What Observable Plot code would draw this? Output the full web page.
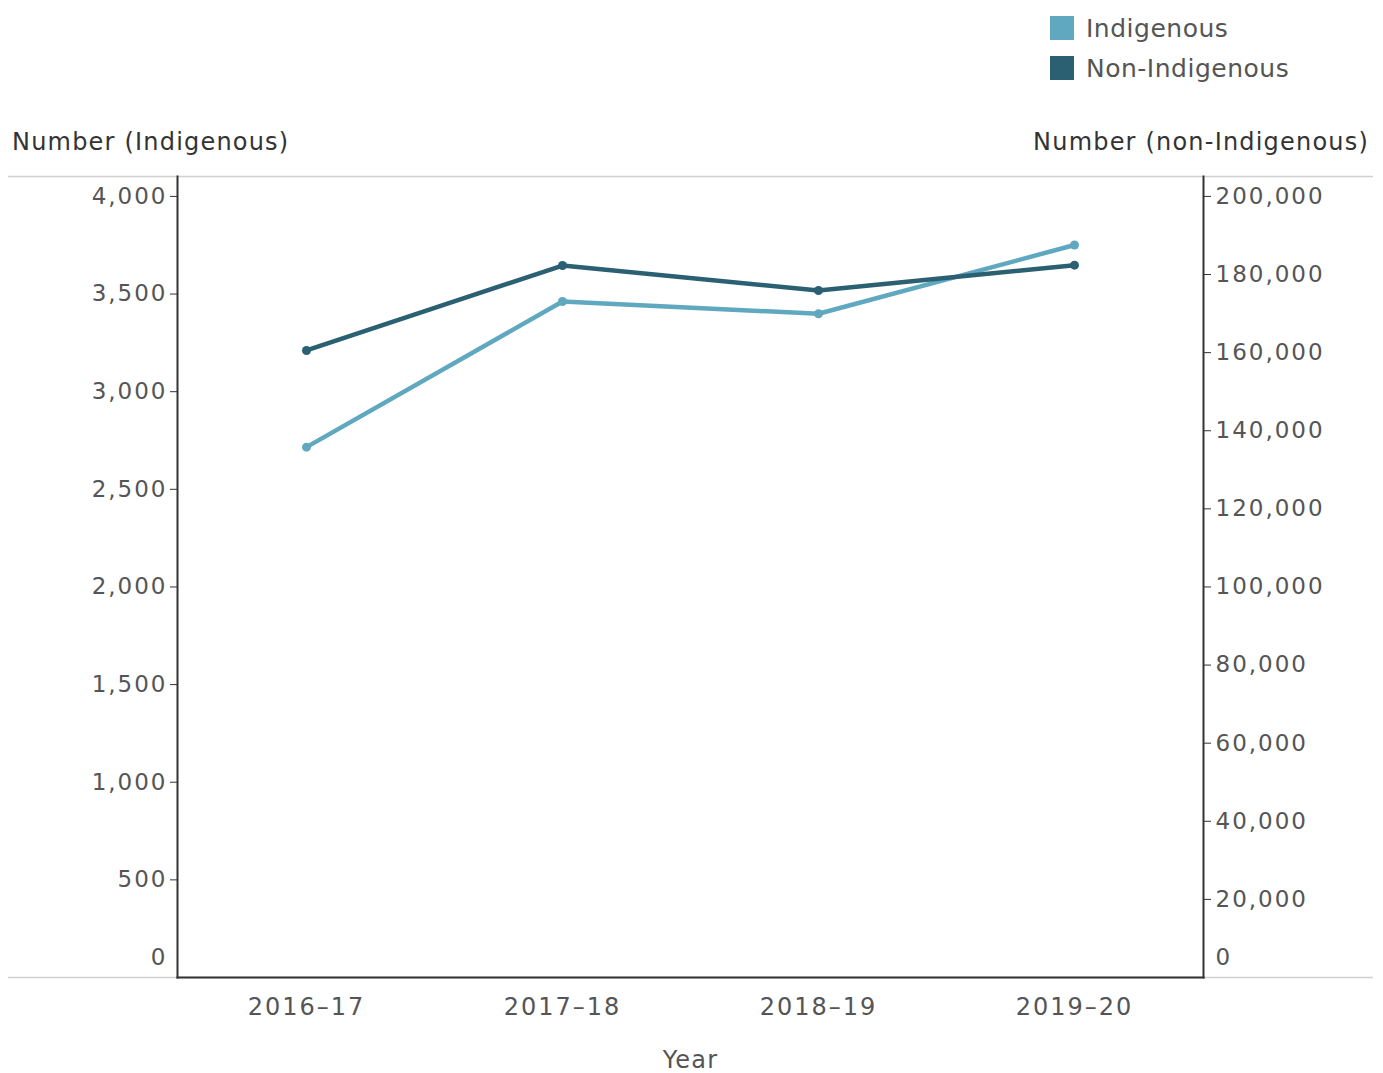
<!DOCTYPE html>
<html>
<head>
<meta charset="utf-8">
<script src="https://cdn.jsdelivr.net/npm/d3@7"></script>
<script src="https://cdn.jsdelivr.net/npm/@observablehq/plot@0.6"></script>
<style>
  body { margin: 0; background: #fff; font-family: "DejaVu Sans", sans-serif; }
  #wrap { position: relative; width: 1383px; }
  #header { position: relative; height: 160px; }
  .sw { position: absolute; width: 24px; height: 24px; }
  .lg { position: absolute; font-size: 25px; color: #555; line-height: 24px; letter-spacing: 0.5px; }
  .ttl { position: absolute; font-size: 24px; color: #333; top: 128px; line-height: 28px; white-space: nowrap; letter-spacing: 1.2px; }
  svg text { letter-spacing: 2px; }
  svg g[aria-label="x-axis label"] text { letter-spacing: 1.2px; }
</style>
</head>
<body>
<div id="wrap">
  <div id="header"></div>
  <div id="chart"></div>
</div>
<script>
const years = ["2016–17", "2017–18", "2018–19", "2019–20"];
const indigenous = [2716, 3462, 3399, 3751];
const nonIndigenous = [160560, 182300, 175900, 182400];
const seriesNames = ["Indigenous", "Non-Indigenous"];
const seriesColors = ["#5fa8bf", "#2b5f72"];
const leftTicks = [500, 1000, 1500, 2000, 2500, 3000, 3500, 4000];
const rightTicks = [20000, 40000, 60000, 80000, 100000, 120000, 140000, 160000, 180000, 200000];
const ratio = 50; // right axis = left axis × 50
const yTop = 4102;

const header = document.getElementById("header");
seriesNames.forEach((n, i) => {
  const s = document.createElement("div");
  s.className = "sw"; s.style.left = "1050px"; s.style.top = (16 + 40 * i) + "px";
  s.style.background = seriesColors[i];
  header.appendChild(s);
  const t = document.createElement("div");
  t.className = "lg"; t.style.left = "1086px"; t.style.top = (17 + 40 * i) + "px";
  t.textContent = n;
  header.appendChild(t);
});
const tl = document.createElement("div");
tl.className = "ttl"; tl.style.left = "12px"; tl.textContent = "Number (Indigenous)";
header.appendChild(tl);
const tr = document.createElement("div");
tr.className = "ttl"; tr.style.right = "14px"; tr.textContent = "Number (non-Indigenous)";
header.appendChild(tr);

const data = [];
years.forEach((y, i) => {
  data.push({year: y, series: "Indigenous", v: indigenous[i]});
  data.push({year: y, series: "Non-Indigenous", v: nonIndigenous[i] / ratio});
});

const fmt = d3.format(",");
const chart = Plot.plot({
  width: 1383,
  height: 913,
  marginTop: 16,
  marginBottom: 96,
  marginLeft: 177,
  marginRight: 180,
  style: {fontFamily: "DejaVu Sans, sans-serif", fontSize: "23px", color: "#555", background: "#fff"},
  x: {type: "point", domain: years, padding: 0.5, label: null},
  y: {domain: [0, yTop], label: null},
  color: {domain: seriesNames, range: seriesColors},
  marks: [
    Plot.ruleY([yTop, 0], {stroke: "#d0d0d0", strokeWidth: 1.5, insetLeft: -169, insetRight: -170}),
    Plot.frame({anchor: "left", stroke: "#333", strokeWidth: 2}),
    Plot.frame({anchor: "right", stroke: "#333", strokeWidth: 2}),
    Plot.frame({anchor: "bottom", stroke: "#333", strokeWidth: 2}),
    Plot.axisY({ticks: leftTicks, tickFormat: fmt, tickSize: 7, tickPadding: 3, anchor: "left", label: null, stroke: "#333"}),
    Plot.axisY({ticks: [0], tickFormat: fmt, tickSize: 0, tickPadding: 10, anchor: "left", label: null, dy: -20}),
    Plot.axisY({ticks: rightTicks.map(d => d / ratio), tickFormat: d => fmt(Math.round(d * ratio)), tickSize: 7, tickPadding: 5, anchor: "right", label: null, stroke: "#333"}),
    Plot.axisY({ticks: [0], tickFormat: fmt, tickSize: 0, tickPadding: 12, anchor: "right", label: null, dy: -20}),
    Plot.axisX({tickSize: 0, tickPadding: 20, label: "Year", labelAnchor: "center", labelOffset: 90, fill: "#555", fontSize: 24}),
    Plot.line(data, {x: "year", y: "v", stroke: "series", strokeWidth: 4.5}),
    Plot.dot(data, {x: "year", y: "v", fill: "series", r: 4.5})
  ]
});
document.getElementById("chart").appendChild(chart);
</script>
</body>
</html>
